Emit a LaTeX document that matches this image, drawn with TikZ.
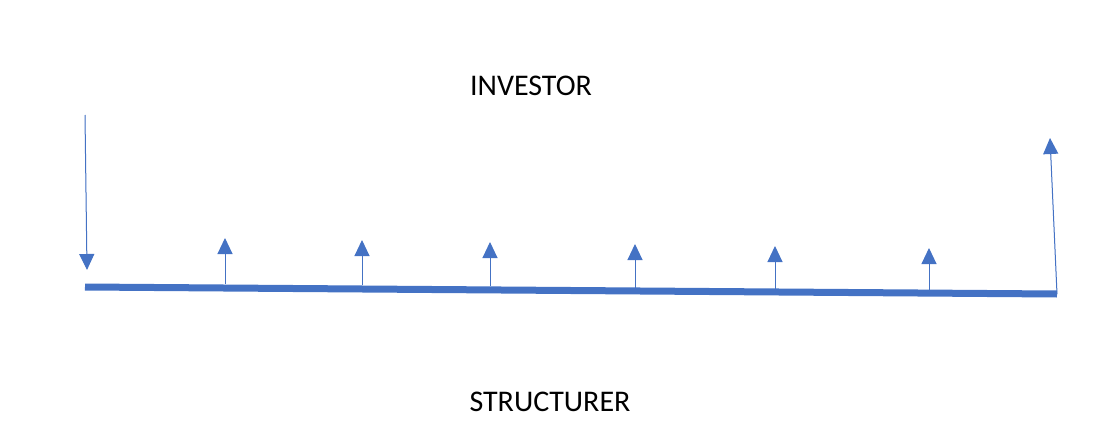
\documentclass[tikz,border=0pt]{standalone}
\usepackage{fontspec}
\setmainfont{Carlito}
\usetikzlibrary{arrows.meta}
\definecolor{bl}{HTML}{4472C4}
\begin{document}
\begin{tikzpicture}[x=1pt,y=-1pt,
  flow/.style={draw=bl,line width=1pt,-{Triangle[width=15pt,length=16pt]},fill=bl},
  lbl/.style={font=\fontsize{30}{36}\selectfont,text=black}]
\useasboundingbox (0,0) rectangle (1101,423);
\node[lbl] (inv) at (531,86) {INVESTOR};
\node[lbl] (str) at (550,402) {STRUCTURER};
\coordinate (L) at (85,287);
\coordinate (R) at (1057,294);
\draw[bl,line width=7pt] (L) -- (R);
\coordinate (lt) at (85,115);
\coordinate (lb) at (87,270);
\draw[flow] (lt) -- (lb);
\coordinate (rt) at (1050,138);
\draw[flow] (R) -- (rt);
\foreach \x/\t/\b in {225/238/284,362/240/285,490/242/286,635/244/288,775/246/289,929/248/290}{
  \coordinate (b\x) at (\x,\b);
  \coordinate (t\x) at (\x,\t);
  \draw[flow] (b\x) -- (t\x);
}
\end{tikzpicture}
\end{document}
